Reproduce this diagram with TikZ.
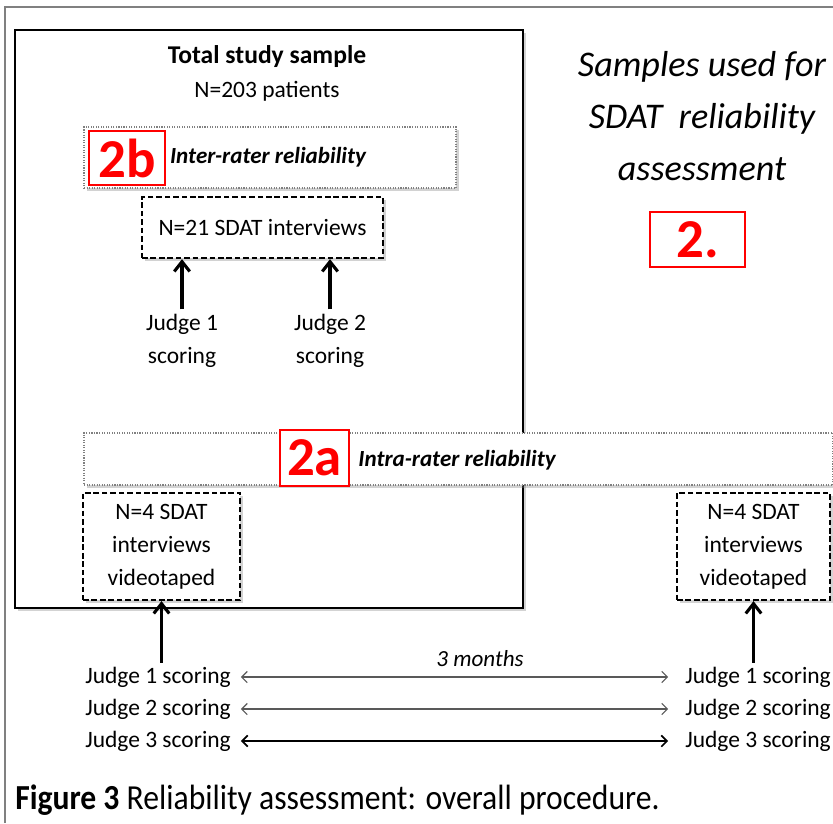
\documentclass[tikz,border=0pt]{standalone}
\usepackage{fontspec}
\setmainfont{Carlito}
\usetikzlibrary{arrows.meta,shadows}

\begin{document}
\begin{tikzpicture}[x=0.025cm, y=-0.025cm,
		every node/.style={font=\fontsize{16.7}{23.5}\selectfont},
		dims/.style 2 args={minimum width=#1*0.025cm, minimum height=#2*0.025cm, inner sep=0pt},
		softshadow/.style={drop shadow={opacity=0.35, shadow xshift=2pt, shadow yshift=-2pt}},
		samplebox/.style={draw, line width=2pt, fill=white, softshadow},
		dotbox/.style={draw=gray, densely dotted, line width=0.8pt, fill=white, softshadow},
		dashbox/.style={draw, dash pattern=on 4pt off 2pt, line width=1.6pt, fill=white, softshadow, align=center},
		tagbox/.style={draw=red, line width=1.2pt, fill=white, text=red, font=\fontsize{39}{39}\selectfont\bfseries},
		uparrow/.style={-{Straight Barb[length=7pt,width=11pt]}, line width=2.2pt},
		timearrow/.style={{Straight Barb[length=4pt,width=8pt]}-{Straight Barb[length=4pt,width=8pt]}, gray!70!black, line width=0.8pt}]
		\useasboundingbox (0,0) rectangle (833,823);
		
		% Screenshot frame
		\draw[gray, line width=1pt] (5,823) -- (5,7) -- (833,7);
		
		% Total study sample
		\node[samplebox, dims={508}{578}] (sample) at (269,319) {};
		\node[font=\fontsize{18.2}{20}\selectfont\bfseries] (sampletitle) at (267,57) {Total study sample};
		\node (samplecount) at (267,91) {N=203 patients};
		
		% Inter-rater reliability
		\node[dotbox, dims={372}{61}] (inter) at (270,157.5) {};
		\node[font=\fontsize{16.4}{20}\selectfont\bfseries\itshape] (interlabel) at (268,157) {Inter-rater reliability};
		\node[tagbox, dims={76}{54}] (tag2b) at (127,158) {2b};
		\node[dashbox, dims={241}{61}] (n21) at (262.5,227.5) {N=21 SDAT interviews};
		
		\node[align=center] (judgeA) at (182,341) {Judge 1\\scoring};
		\node[align=center] (judgeB) at (330,341) {Judge 2\\scoring};
		\draw[uparrow] (judgeA.north) -- (judgeA.north |- n21.south);
		\draw[uparrow] (judgeB.north) -- (judgeB.north |- n21.south);
		
		% Intra-rater reliability
		\node[dotbox, dims={749}{52}] (intra) at (458.5,459) {};
		\node[font=\fontsize{16.4}{20}\selectfont\bfseries\itshape] (intralabel) at (457,460) {Intra-rater reliability};
		\node[tagbox, dims={69}{56}] (tag2a) at (314.5,458) {2a};
		
		\node[dashbox, dims={157}{107}] (videoL) at (161.5,546.5) {N=4 SDAT\\interviews\\videotaped};
		\node[dashbox, dims={153}{107}] (videoR) at (753.5,546.5) {N=4 SDAT\\interviews\\videotaped};
		
		% Judges, first and second scoring
		\foreach \j/\yy in {1/677, 2/709, 3/741} {
			\node[anchor=west, inner sep=0pt] (left\j) at (85,\yy) {Judge \j\ scoring};
			\node[anchor=west, inner sep=0pt] (right\j) at (685,\yy) {Judge \j\ scoring};
		}
		\draw[timearrow, shorten <=7pt, shorten >=12pt] (left1.east) -- (right1.west);
		\draw[timearrow, shorten <=7pt, shorten >=12pt] (left2.east) -- (right2.west);
		\draw[timearrow, black, line width=1.2pt, shorten <=7pt, shorten >=12pt] (left3.east) -- (right3.west);
		\node[font=\fontsize{16.4}{20}\selectfont\itshape] (months) at (480,659) {3 months};
		
		\draw[uparrow] (left1.north -| videoL.south) ++(0,-4) coordinate (startL) (startL) -- (videoL.south);
		\draw[uparrow] (right1.north -| videoR.south) ++(0,-4) coordinate (startR) (startR) -- (videoR.south);
		
		% Heading and tag
		\node[align=center, font=\fontsize{25.7}{37}\selectfont\itshape] (heading) at (702,116) {Samples used for\\SDAT\ \ reliability\\assessment};
		\node[tagbox, dims={95}{55}] (tag2) at (697.5,239.5) {2.};
		
		% Caption
		\node[anchor=west, inner sep=0pt, font=\fontsize{25}{30}\selectfont] (caption) at (15,800) {\scalebox{0.9}[1]{\textbf{Figure 3} Reliability assessment: overall procedure.}};
	\end{tikzpicture}
\end{document}
